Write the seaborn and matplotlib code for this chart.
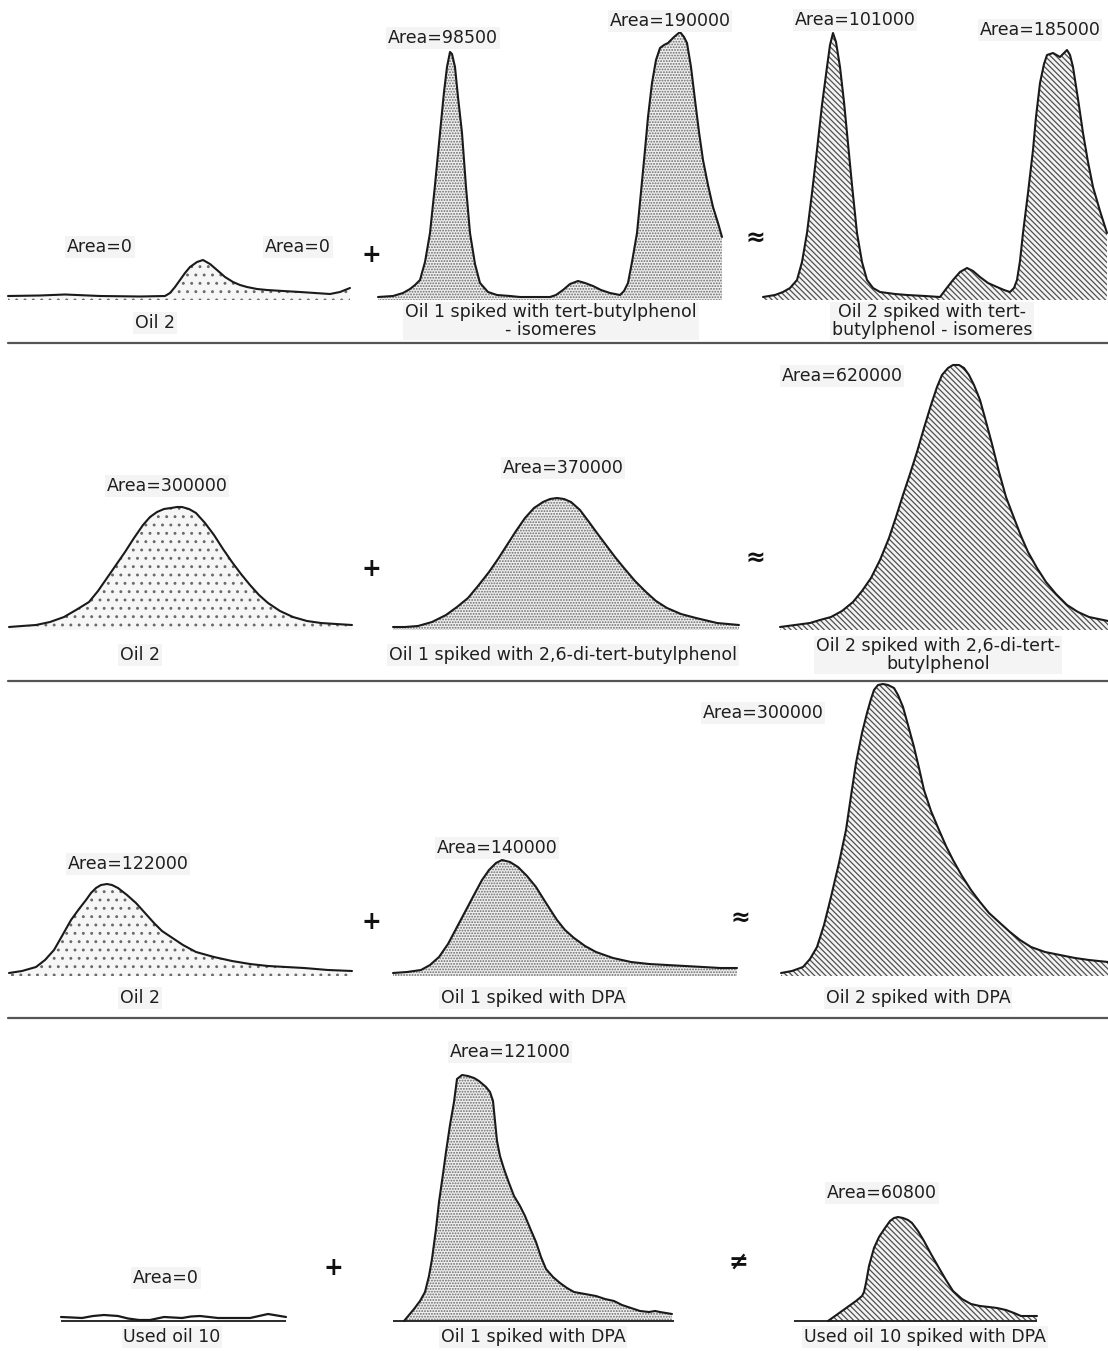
import matplotlib
matplotlib.use("Agg")
import matplotlib.pyplot as plt
import seaborn as sns
import pandas as pd

W, H = 1108, 1351

# ---------------- data: retention position (x) and signal (height above baseline) ----------------
# Row 1 : tert-butylphenol isomeres
r1_oil2_x = [8, 40, 65, 100, 140, 165, 170, 175, 180, 185, 190, 197, 203, 210, 217, 225, 233, 240, 247, 257, 267, 283, 300, 315, 330, 340, 350]
r1_oil2_y = [1, 1.5, 2.5, 1, 0.5, 1, 4, 10, 17, 24, 30, 35, 37, 33, 27, 20, 15, 12, 10, 8, 7, 6, 5, 4, 3, 5, 9]

r1_oil1_x = [378, 393, 403, 410, 415, 420, 425, 430, 435, 440, 444, 447, 450, 452, 455, 458, 462, 466, 470, 475, 480, 488, 497, 510, 520,
             535, 550, 556, 563, 570, 578, 585, 593, 601, 610, 620, 624, 628, 632, 637, 641, 645, 648, 652, 656, 660, 664, 668,
             674, 680, 684, 687, 691, 695, 699, 703, 708, 713, 718, 722]
r1_oil1_y = [0, 1, 4, 8, 12, 17, 35, 64, 112, 164, 205, 230, 245, 243, 230, 200, 164, 110, 64, 33, 14, 5, 2, 1, 0,
             0, 0, 2, 7, 13, 16, 14, 11, 7, 4, 2, 6, 14, 35, 64, 105, 147, 180, 214, 237, 249, 252, 254,
             260, 265, 260, 254, 230, 197, 165, 137, 112, 90, 74, 60]

r1_spk_x = [763, 775, 783, 790, 797, 802, 807, 812, 817, 822, 827, 830, 833, 836, 840, 844, 847, 852, 857, 862, 867, 873, 880,
            895, 907, 925, 940, 946, 953, 960, 967, 973, 980, 988, 997, 1004, 1010, 1014, 1017, 1020, 1023, 1028, 1033, 1036,
            1040, 1044, 1047, 1053, 1060, 1067, 1070, 1073, 1078, 1083, 1088, 1093, 1100, 1107]
r1_spk_y = [0, 2, 5, 9, 17, 35, 64, 104, 147, 192, 230, 252, 264, 255, 230, 195, 164, 112, 64, 35, 17, 9, 5,
            3, 2, 1, 0, 8, 17, 25, 29, 26, 20, 14, 10, 7, 5, 9, 17, 36, 64, 104, 147, 180,
            214, 233, 242, 244, 240, 247, 242, 230, 198, 164, 135, 110, 86, 64]

# Row 2 : 2,6-di-tert-butylphenol
r2_oil2_x = [9, 22, 36, 50, 64, 76, 89, 98, 107, 116, 125, 134, 143, 150, 157, 164, 171, 177, 182, 189, 196, 205, 214, 223,
             232, 241, 250, 259, 268, 280, 293, 307, 321, 336, 352]
r2_oil2_y = [0, 1, 2, 5, 10, 17, 25, 36, 49, 62, 75, 89, 102, 110, 115, 118, 119, 120, 120, 118, 114, 104, 92, 78,
             65, 53, 42, 32, 24, 16, 10, 6, 4, 3, 2]

r2_oil1_x = [393, 405, 418, 432, 446, 457, 468, 478, 489, 498, 507, 516, 525, 534, 543, 550, 557, 564, 571, 580, 589, 597,
             606, 615, 624, 635, 646, 656, 667, 681, 696, 717, 739]
r2_oil1_y = [0, 0, 1, 5, 12, 20, 29, 41, 55, 68, 82, 96, 109, 119, 125, 128, 129, 128, 125, 117, 105, 94,
             82, 70, 59, 46, 35, 26, 19, 13, 9, 4, 2]

r2_spk_x = [780, 795, 810, 820, 831, 842, 853, 862, 871, 880, 889, 896, 903, 910, 917, 924, 931, 937, 942, 948, 953, 959,
            964, 969, 974, 980, 985, 992, 999, 1006, 1014, 1021, 1028, 1037, 1046, 1056, 1067, 1078, 1089, 1108]
r2_spk_y = [0, 2, 4, 7, 10, 16, 25, 36, 49, 67, 89, 110, 132, 153, 175, 199, 222, 240, 252, 259, 262, 262,
            259, 252, 242, 227, 209, 183, 155, 130, 109, 91, 75, 59, 45, 33, 22, 15, 10, 6]

# Row 3 : DPA
r3_oil2_x = [9, 22, 36, 45, 54, 62, 71, 79, 86, 91, 96, 101, 107, 112, 118, 127, 136, 145, 154, 162, 171, 183, 196, 214,
             232, 250, 268, 286, 304, 328, 352]
r3_oil2_y = [0, 2, 6, 13, 23, 37, 53, 64, 73, 80, 85, 88, 89, 88, 85, 78, 70, 60, 50, 42, 36, 28, 21, 16,
             12, 9, 7, 6, 5, 3, 2]

r3_oil1_x = [393, 407, 421, 430, 439, 448, 457, 466, 475, 482, 489, 496, 502, 510, 518, 527, 536, 546, 557, 565, 574, 585,
             596, 613, 631, 649, 667, 685, 703, 720, 737]
r3_oil1_y = [0, 1, 3, 8, 16, 29, 46, 63, 80, 93, 103, 110, 113, 111, 106, 97, 86, 70, 53, 43, 35, 27,
             21, 15, 11, 9, 8, 7, 6, 5, 5]

r3_spk_x = [781, 792, 803, 810, 817, 824, 831, 839, 846, 851, 856, 862, 867, 871, 874, 878, 883, 888, 894, 898, 903, 908,
            914, 919, 924, 931, 939, 946, 953, 962, 971, 980, 989, 1000, 1010, 1020, 1031, 1045, 1060, 1075, 1089, 1108]
r3_spk_y = [0, 2, 6, 14, 26, 48, 76, 110, 143, 177, 210, 240, 260, 274, 283, 288, 289, 288, 285, 278, 266, 248,
            226, 205, 183, 162, 143, 127, 113, 97, 83, 71, 60, 50, 41, 33, 26, 21, 18, 15, 13, 11]

# Row 4 : used oil 10 + DPA
r4_used_x = [61, 72, 82, 93, 104, 118, 128, 139, 150, 164, 173, 182, 191, 200, 209, 218, 234, 250, 259, 268, 277, 286]
r4_used_y = [4, 3.5, 3, 5, 6, 5, 2.5, 1, 1, 4, 3.5, 3, 4.5, 5, 4, 3, 3, 3, 5, 7, 5.5, 4]

r4_oil1_x = [404, 409, 414, 420, 425, 429, 432, 436, 439, 443, 446, 450, 454, 457, 462, 468, 474, 479, 486, 490, 493, 495,
             497, 500, 504, 509, 514, 520, 525, 530, 536, 541, 546, 553, 560, 567, 574, 585, 596, 605, 614, 622, 631, 640,
             649, 655, 660, 666, 672]
r4_oil1_y = [0, 6, 12, 20, 29, 45, 62, 92, 119, 147, 169, 196, 219, 242, 246, 245, 243, 240, 234, 229, 220, 200,
             180, 165, 152, 138, 125, 115, 105, 93, 79, 64, 52, 44, 38, 33, 29, 27, 25, 22, 20, 16, 13, 10,
             9, 10, 9, 8, 7]

r4_spk_x = [828, 835, 842, 849, 856, 862, 864, 866, 869, 874, 879, 885, 890, 894, 898, 903, 908, 912, 918, 924, 931, 939,
            946, 953, 962, 971, 980, 989, 997, 1006, 1014, 1021, 1030, 1037]
r4_spk_y = [0, 5, 10, 15, 20, 25, 29, 38, 55, 73, 84, 93, 100, 103, 104, 103, 101, 98, 90, 80, 67, 53,
            41, 30, 22, 17, 15, 14, 13, 11, 8, 5, 5, 5]

# baselines drawn in row 4 (start, end)
r4_base_start = [61, 393, 794]
r4_base_end = [286, 674, 1037]

# ---------------- text ----------------
area_labels = [
    ("Area=0", 100, 247), ("Area=0", 298, 247),
    ("Area=98500", 443, 38), ("Area=190000", 670, 21),
    ("Area=101000", 855, 20), ("Area=185000", 1040, 30),
    ("Area=300000", 167, 486), ("Area=370000", 563, 468), ("Area=620000", 842, 376),
    ("Area=122000", 128, 864), ("Area=140000", 497, 848), ("Area=300000", 763, 713),
    ("Area=0", 166, 1278), ("Area=121000", 510, 1052), ("Area=60800", 882, 1193),
]
captions = [
    ("Oil 2", 155, 323),
    ("Oil 1 spiked with tert-butylphenol\n- isomeres", 551, 321),
    ("Oil 2 spiked with tert-\nbutylphenol - isomeres", 932, 321),
    ("Oil 2", 140, 655),
    ("Oil 1 spiked with 2,6-di-tert-butylphenol", 563, 655),
    ("Oil 2 spiked with 2,6-di-tert-\nbutylphenol", 938, 655),
    ("Oil 2", 140, 998),
    ("Oil 1 spiked with DPA", 533, 998),
    ("Oil 2 spiked with DPA", 918, 998),
    ("Used oil 10", 172, 1337),
    ("Oil 1 spiked with DPA", 533, 1337),
    ("Used oil 10 spiked with DPA", 925, 1337),
]
operators = [("+", 371, 255), ("≈", 755, 238), ("+", 371, 569), ("≈", 755, 558),
             ("+", 371, 922), ("≈", 740, 918), ("+", 333, 1268), ("≠", 738, 1262)]

# ---------------- style ----------------
sns.set_theme(style="white")
plt.rcParams['font.family'] = ['DejaVu Sans']
plt.rcParams['hatch.linewidth'] = 0.9

fig = plt.figure(figsize=(W / 100, H / 100), dpi=100)
fig.patch.set_facecolor("white")

# rows: (top px, bottom px, baseline px)
rows = [(0, 343, 297), (343, 681, 627), (681, 1018, 973), (1018, 1351, 1321)]
row_axes = []
for top, bot, base in rows:
    ax = fig.add_axes([0, 1 - bot / H, 1, (bot - top) / H])
    ax.set_xlim(0, W)
    ax.set_ylim(-(bot - base), base - top)
    ax.axis("off")
    row_axes.append(ax)

STYLES = {
    "plain": dict(hatch="..", hc="#6a6a6a", fc="#f6f6f6"),
    "oil1": dict(hatch="......", hc="#6a6a6a", fc="#efefef"),
    "spiked": dict(hatch="\\" * 6, hc="#505050", fc="#f4f4f4"),
}


def draw_peak(ax, x, y, kind, floor=-3.0):
    st = STYLES[kind]
    ax.fill_between(x, y, floor, facecolor=st["fc"], edgecolor=st["hc"], hatch=st["hatch"], linewidth=0, zorder=1)
    df = pd.DataFrame({"t": x, "s": y})
    sns.lineplot(data=df, x="t", y="s", ax=ax, color="#1a1a1a", linewidth=1.5, sort=False,
                 estimator=None, legend=False, zorder=3)
    ax.axis("off")


draw_peak(row_axes[0], r1_oil2_x, r1_oil2_y, "plain")
draw_peak(row_axes[0], r1_oil1_x, r1_oil1_y, "oil1")
draw_peak(row_axes[0], r1_spk_x, r1_spk_y, "spiked")
draw_peak(row_axes[1], r2_oil2_x, r2_oil2_y, "plain")
draw_peak(row_axes[1], r2_oil1_x, r2_oil1_y, "oil1")
draw_peak(row_axes[1], r2_spk_x, r2_spk_y, "spiked")
draw_peak(row_axes[2], r3_oil2_x, r3_oil2_y, "plain")
draw_peak(row_axes[2], r3_oil1_x, r3_oil1_y, "oil1")
draw_peak(row_axes[2], r3_spk_x, r3_spk_y, "spiked")

ax4 = row_axes[3]
ax4.hlines([0, 0, 0], r4_base_start, r4_base_end, color="#1a1a1a", linewidth=1.3, zorder=3)
used_df = pd.DataFrame({"t": r4_used_x, "s": r4_used_y})
sns.lineplot(data=used_df, x="t", y="s", ax=ax4, color="#1a1a1a", linewidth=1.6, sort=False,
             estimator=None, legend=False, zorder=3)
draw_peak(ax4, r4_oil1_x, r4_oil1_y, "oil1", floor=0)
draw_peak(ax4, r4_spk_x, r4_spk_y, "spiked", floor=0)

# overlay for text and separators (pixel coordinates)
ov = fig.add_axes([0, 0, 1, 1], facecolor="none")
ov.set_xlim(0, W)
ov.set_ylim(H, 0)
ov.axis("off")
for ysep in [343, 681, 1018]:
    ov.axhline(ysep, xmin=8 / W, xmax=1, color="#555555", linewidth=1.6)

box = dict(facecolor="#f4f4f4", edgecolor="none", pad=1.2)
for t, x, y in area_labels:
    ov.text(x, y, t, ha="center", va="center", fontsize=12.5, color="#1e1e1e", bbox=box)
for t, x, y in captions:
    ov.text(x, y, t, ha="center", va="center", fontsize=12.5, color="#1e1e1e",
            linespacing=0.95, bbox=box)
for t, x, y in operators:
    ov.text(x, y, t, ha="center", va="center", fontsize=17, color="#111111", fontweight="bold")

fig.savefig("out.png", dpi=100, facecolor="white")
